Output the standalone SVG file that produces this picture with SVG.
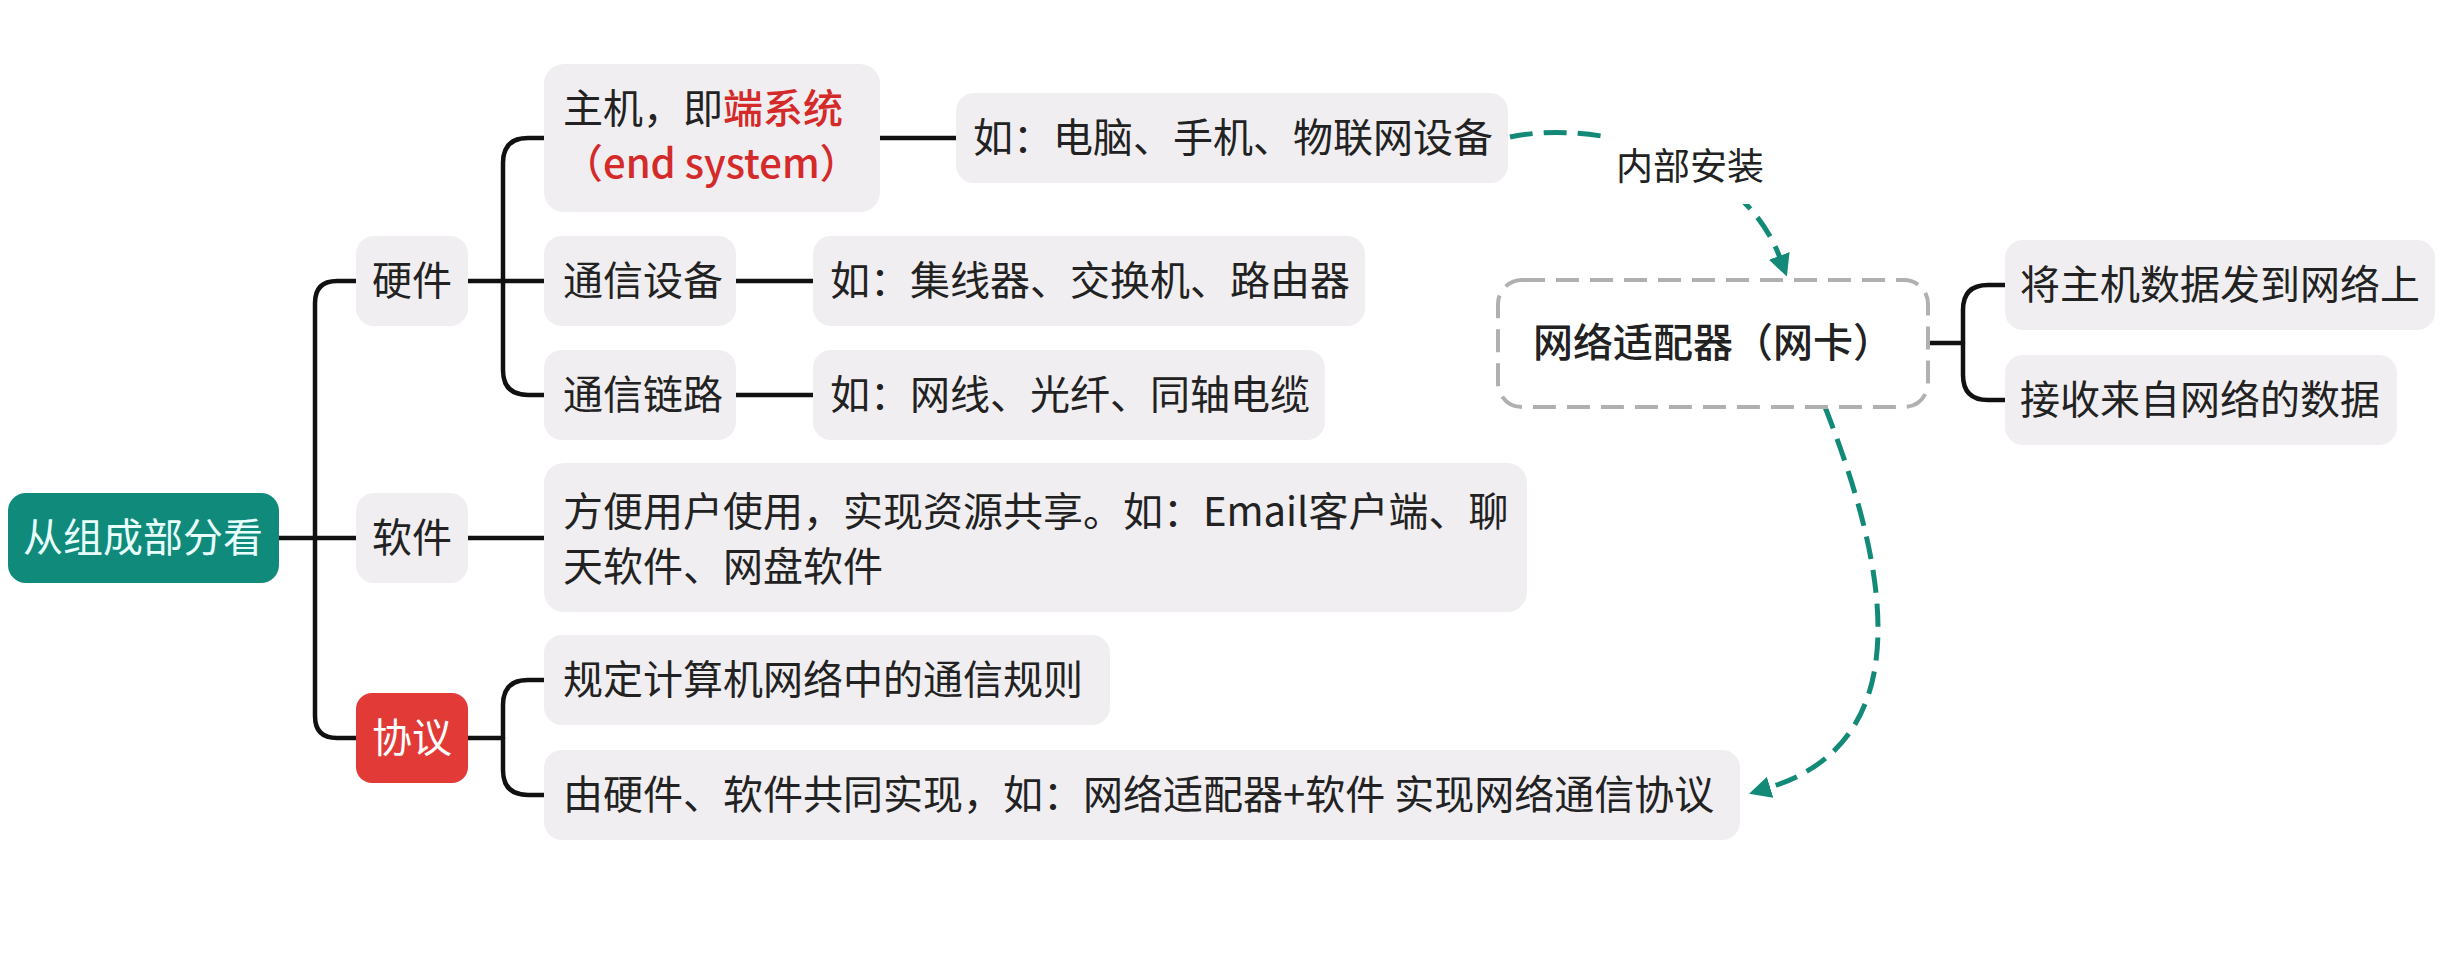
<svg xmlns="http://www.w3.org/2000/svg" width="2458" height="966" viewBox="0 0 2458 966">
<style>
text{font-family:"Noto Sans CJK SC","Noto Sans",sans-serif;font-size:40px;fill:#222}
.box{fill:#f0eef1}
.c{text-anchor:middle}
.red{fill:#d42a2a;font-weight:500}
.edge{fill:none;stroke:#111;stroke-width:4.5;stroke-linecap:round;stroke-linejoin:round}
.link{fill:none;stroke:#138a78;stroke-width:5;stroke-dasharray:23 11}
</style>
<defs>
<marker id="arr" markerUnits="userSpaceOnUse" markerWidth="22" markerHeight="22" viewBox="0 0 10 10" refX="1" refY="5" orient="auto">
<path d="M0,0 L10,5 L0,10 z" fill="#138a78"/>
</marker>
</defs>
<rect width="2458" height="966" fill="#fff"/>
<g id="connectors">
<path class="edge" d="M279,538 H315"/>
<path class="edge" d="M356,281 H337 Q315,281 315,303 V716 Q315,738 337,738 H356"/>
<path class="edge" d="M315,538 H356"/>
<path class="edge" d="M468,281 H544"/>
<path class="edge" d="M544,138 H528 Q503,138 503,163 V370 Q503,395 528,395 H544"/>
<path class="edge" d="M880,138 H956"/>
<path class="edge" d="M736,281 H813"/>
<path class="edge" d="M736,395 H813"/>
<path class="edge" d="M468,538 H544"/>
<path class="edge" d="M468,738 H503"/>
<path class="edge" d="M544,680 H528 Q503,680 503,705 V770 Q503,795 528,795 H544"/>
<path class="edge" d="M1928,343 H1963"/>
<path class="edge" d="M2005,285 H1988 Q1963,285 1963,310 V375 Q1963,400 1988,400 H2005"/>
<path class="link" d="M1510,137 C1590,120 1740,150 1780,258" marker-end="url(#arr)"/>
<path class="link" d="M1825,407 C1885,560 1925,740 1768,788" marker-end="url(#arr)"/>
<g id="link-label">
<rect x="1604" y="128" width="168" height="76" fill="#fff"/>
<text x="1690" y="180" class="c" style="font-size:37px">内部安装</text>
</g>
</g>
<g id="root">
<rect x="8" y="493" width="271" height="90" rx="18" fill="#0f8a7b"/>
<text x="143" y="552" class="c" style="fill:#e8fffb">从组成部分看</text>
</g>
<g id="hardware">
<rect class="box" x="356" y="236" width="112" height="90" rx="18"/>
<text x="412" y="295" class="c">硬件</text>
</g>
<g id="software">
<rect class="box" x="356" y="493" width="112" height="90" rx="18"/>
<text x="412" y="552" class="c">软件</text>
</g>
<g id="protocol">
<rect x="356" y="693" width="112" height="90" rx="16" fill="#e23b37"/>
<text x="412" y="752" class="c" style="fill:#fff">协议</text>
</g>
<g id="host">
<rect class="box" x="544" y="64" width="336" height="148" rx="20"/>
<text x="563" y="123">主机，即<tspan class="red">端系统</tspan></text>
<text x="563" y="178" class="red">（end system）</text>
</g>
<g id="host-eg">
<rect class="box" x="956" y="93" width="552" height="90" rx="18"/>
<text x="973" y="152">如：电脑、手机、物联网设备</text>
</g>
<g id="device">
<rect class="box" x="544" y="236" width="192" height="90" rx="18"/>
<text x="563" y="295">通信设备</text>
</g>
<g id="device-eg">
<rect class="box" x="813" y="236" width="552" height="90" rx="18"/>
<text x="830" y="295">如：集线器、交换机、路由器</text>
</g>
<g id="link">
<rect class="box" x="544" y="350" width="192" height="90" rx="18"/>
<text x="563" y="409">通信链路</text>
</g>
<g id="link-eg">
<rect class="box" x="813" y="350" width="512" height="90" rx="18"/>
<text x="830" y="409">如：网线、光纤、同轴电缆</text>
</g>
<g id="software-desc">
<rect class="box" x="544" y="463" width="983" height="149" rx="20"/>
<text x="563" y="526">方便用户使用，实现资源共享。如：Email客户端、聊</text>
<text x="563" y="581">天软件、网盘软件</text>
</g>
<g id="protocol-rule">
<rect class="box" x="544" y="635" width="566" height="90" rx="18"/>
<text x="563" y="694">规定计算机网络中的通信规则</text>
</g>
<g id="protocol-impl">
<rect class="box" x="544" y="750" width="1196" height="90" rx="18"/>
<text x="563" y="809">由硬件、软件共同实现，如：网络适配器+软件 实现网络通信协议</text>
</g>
<g id="nic">
<rect x="1498" y="280" width="430" height="127" rx="24" fill="#fff" stroke="#b0b0b0" stroke-width="4" stroke-dasharray="23 11"/>
<text x="1713" y="357" class="c" style="font-weight:500">网络适配器（网卡）</text>
</g>
<g id="nic-send">
<rect class="box" x="2005" y="240" width="430" height="90" rx="18"/>
<text x="2020" y="299">将主机数据发到网络上</text>
</g>
<g id="nic-recv">
<rect class="box" x="2005" y="355" width="392" height="90" rx="18"/>
<text x="2020" y="414">接收来自网络的数据</text>
</g>
</svg>
